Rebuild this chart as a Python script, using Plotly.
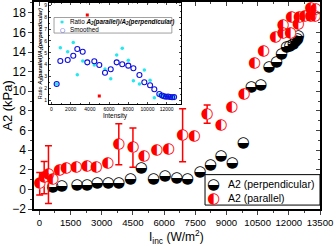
import plotly.graph_objects as go

# ---------------- main data ----------------
perp_x = [650, 1080, 1810, 2290, 2780, 3310, 3820, 4390, 4900, 5490, 6050, 6610, 7130, 7730,
          8230, 8740, 9280, 9810, 10200, 10650, 11050, 11410, 11650, 11890, 12050, 12210,
          12330, 12420, 12450]
perp_y = [0.23, 0.31, 0.38, 0.38, 0.64, 0.64, 0.64, 1.0, 2.2, 1.02, 1.36, 1.15, 0.99, 1.77,
          2.45, 3.37, 2.69, 4.67, 10.39, 10.62, 12.49, 13.0, 13.79, 14.47, 14.6, 14.8,
          15.05, 15.3, 15.56]

par_x = [15, 230, 435, 650, 970, 1290, 1775, 2290, 2740, 3290, 3820, 4500, 5030, 5650, 6210,
         6890, 7450, 8070, 8740, 9260, 9840, 10350, 10790, 11360, 11720, 11720, 12080, 12130,
         12450, 12500, 12770, 13060, 13060, 13260, 13300]
par_y = [0.58, 1.2, 1.5, 0.99, 1.94, 2.18, 2.28, 2.35, 2.28, 2.62, 4.6, 4.26, 3.37, 3.98, 4.05,
         5.52, 5.41, 7.66, 6.54, 8.41, 9.7, 12.84, 14.1, 15.5, 15.9, 16.75, 15.9, 17.5,
         16.85, 17.5, 17.6, 17.67, 18.46, 17.6, 18.35]
par_err = [1.15, 1.65, 2.95, 0, 0, 0, 0, 0, 0, 0, 2.1, 2.0, 0, 0, 0,
           2.7, 0, 0.93, 0, 0, 0, 0, 0, 0, 0, 0, 0, 0,
           0, 0, 0, 0, 0, 0, 0]

# ---------------- inset data ----------------
ratio_x = [540, 920, 1690, 2270, 2690, 3250, 4460, 5575, 6170, 6790, 7370, 8000, 8530, 9160,
           9670, 10270, 10710, 11230, 11510, 11720, 11930, 12140, 12350, 12560, 12770]
ratio_y = [2.36, 5.43, 5.09, 5.86, 3.14, 4.31, 3.97, 3.63, 2.80, 4.81, 5.38, 4.36, 2.64, 2.36,
           3.54, 2.67, 1.19, 1.45, 1.30, 1.35, 1.25, 1.30, 1.22, 1.28, 1.25]
smooth_x = [540, 920, 1690, 2270, 2690, 3250, 3730, 4460, 4980, 5575, 6170, 6790, 7370, 8000,
            8530, 9160, 9670, 10270, 10710, 11230, 11510, 11720, 11930, 12140, 12350, 12560, 12770]
smooth_y = [2.36, 4.30, 4.39, 4.75, 5.32, 5.09, 4.19, 4.28, 3.97, 3.31, 3.60, 4.19, 4.03, 3.91,
            3.69, 3.12, 2.50, 2.25, 1.91, 1.51, 1.38, 1.32, 1.28, 1.30, 1.26, 1.24, 1.25]
masked_x = [3730, 4980]
masked_y = [8.2, 1.34]

FONT = "Arial, Liberation Sans, sans-serif"
GLYPH = "DejaVu Sans"

fig = go.Figure()

# perpendicular: white backing + glyph
fig.add_trace(go.Scatter(x=perp_x, y=perp_y, mode="markers",
                         marker=dict(size=11, color="white"), showlegend=False, hoverinfo="skip"))
fig.add_trace(go.Scatter(x=perp_x, y=perp_y, mode="text", text=["\u25D2"] * len(perp_x),
                         textfont=dict(family=GLYPH, size=15, color="black"),
                         showlegend=False))
# parallel: error bars + white backing + glyph
fig.add_trace(go.Scatter(x=par_x, y=par_y, mode="markers",
                         marker=dict(size=11, color="white"),
                         error_y=dict(type="data", array=par_err, color="#ff0000",
                                      thickness=1.5, width=3.5, visible=True),
                         showlegend=False, hoverinfo="skip"))
fig.add_trace(go.Scatter(x=par_x, y=par_y, mode="text", text=["\u25D0"] * len(par_x),
                         textfont=dict(family=GLYPH, size=15, color="#ff0000"),
                         showlegend=False))

# dummy trace for mirrored inward ticks
fig.add_trace(go.Scatter(x=[0], y=[0], xaxis="x3", yaxis="y3", mode="markers",
                         marker=dict(size=1, color="rgba(0,0,0,0)"), showlegend=False,
                         hoverinfo="skip"))

# inset traces
fig.add_trace(go.Scatter(x=ratio_x, y=ratio_y, xaxis="x2", yaxis="y2", mode="markers",
                         marker=dict(size=3.5, color="#22e8f0"), showlegend=False))
fig.add_trace(go.Scatter(x=smooth_x, y=smooth_y, xaxis="x2", yaxis="y2", mode="markers",
                         marker=dict(size=5, color="#1010e0", symbol="circle-open",
                                     line=dict(width=1.1)),
                         showlegend=False))
fig.add_trace(go.Scatter(x=masked_x, y=masked_y, xaxis="x2", yaxis="y2", mode="markers",
                         marker=dict(size=3, color="#ff0000", symbol="square"), showlegend=False))

main_x = dict(range=[-260, 13500], tickmode="linear", tick0=0, dtick=1500, tickformat="d",
              ticks="outside", ticklen=4, tickwidth=1, showgrid=False, zeroline=False,
              showline=True, linecolor="black", linewidth=1.5,
              tickfont=dict(family=FONT, size=9.6, color="black"),
              minor=dict(ticks="outside", ticklen=2, dtick=750, tick0=0),
              domain=[0, 1])
main_y = dict(range=[-2.0, 19.1], tickmode="linear", tick0=0, dtick=2,
              ticks="outside", ticklen=4, tickwidth=1, showgrid=False, zeroline=False,
              showline=True, linecolor="black", linewidth=1.5,
              tickfont=dict(family=FONT, size=12, color="black"),
              minor=dict(ticks="outside", ticklen=2, dtick=1, tick0=0),
              title=dict(text="A2 (kPa)", font=dict(family=FONT, size=13, color="black"),
                         standoff=2),
              domain=[0, 1])

fig.update_layout(
    width=336, height=246,
    margin=dict(l=34, r=16, t=2, b=37),
    paper_bgcolor="white", plot_bgcolor="white",
    showlegend=False,
    xaxis=main_x, yaxis=main_y,
    xaxis3=dict(overlaying="x", side="top", range=[-260, 13500], anchor="y3",
                tickmode="linear", tick0=0, dtick=1500, ticks="inside", ticklen=4,
                showticklabels=False, showgrid=False, zeroline=False, showline=True,
                linecolor="black", linewidth=1.5,
                minor=dict(ticks="inside", ticklen=2, dtick=750, tick0=0)),
    yaxis3=dict(overlaying="y", side="right", range=[-2.0, 19.1],
                tickmode="linear", tick0=0, dtick=2, ticks="inside", ticklen=4,
                showticklabels=False, showgrid=False, zeroline=False, showline=True,
                linecolor="black", linewidth=1.5, anchor="x3",
                minor=dict(ticks="inside", ticklen=2, dtick=1, tick0=0)),
    xaxis2=dict(domain=[0.0524, 0.514], anchor="y2", range=[-260, 13490],
                tickmode="linear", tick0=0, dtick=2000, tickformat="d", ticks="inside", ticklen=2,
                mirror="allticks", showline=True, linecolor="black", linewidth=0.8,
                showgrid=False, zeroline=False,
                tickfont=dict(family=FONT, size=5, color="black"),
                minor=dict(ticks="inside", ticklen=1, dtick=1000, tick0=0),
                title=dict(text="Intensity", font=dict(family=FONT, size=6.5, color="black"),
                           standoff=1)),
    yaxis2=dict(domain=[0.507, 0.994], anchor="x2", range=[0.66, 9.19],
                tickmode="linear", tick0=1, dtick=1, ticks="inside", ticklen=2,
                mirror="allticks", showline=True, linecolor="black", linewidth=0.8,
                showgrid=False, zeroline=False,
                tickfont=dict(family=FONT, size=5, color="black"),
                minor=dict(ticks="inside", ticklen=1, dtick=0.5, tick0=1),
                title=dict(text="Ratio <b><i>A<sub>2</sub>(parallel)/A<sub>2</sub>(perpendicular)</i></b>",
                           font=dict(family=FONT, size=5.5, color="black"), standoff=1)),
)

shapes = [
    dict(type="rect", xref="paper", yref="paper", x0=0.070, x1=0.482, y0=0.850, y1=0.925,
         line=dict(color="#888888", width=0.8), fillcolor="white", layer="above"),
    dict(type="rect", xref="paper", yref="paper", x0=0.598, x1=1.0, y0=0.019, y1=0.166,
         line=dict(color="black", width=1), fillcolor="white", layer="above"),
]
ann = [
    dict(x=0.098, y=0.905, text="\u25CF", font=dict(family=GLYPH, size=4, color="#22e8f0")),
    dict(x=0.098, y=0.868, text="\u25CB", font=dict(family=GLYPH, size=6, color="#1010e0")),
    dict(x=0.120, y=0.905, text="Ratio <b><i>A<sub>2</sub>(parallel)/A<sub>2</sub>(perpendicular)</i></b>",
         xanchor="left", font=dict(family=FONT, size=6.3, color="black")),
    dict(x=0.120, y=0.868, text="Smoothed", xanchor="left",
         font=dict(family=FONT, size=6.3, color="black")),
    dict(x=0.626, y=0.121, text="\u25D2", font=dict(family=GLYPH, size=15, color="black")),
    dict(x=0.626, y=0.053, text="\u25D0", font=dict(family=GLYPH, size=15, color="#ff0000")),
    dict(x=0.672, y=0.121, text="A2 (perpendicular)", xanchor="left",
         font=dict(family=FONT, size=10.5, color="black")),
    dict(x=0.672, y=0.053, text="A2 (parallel)", xanchor="left",
         font=dict(family=FONT, size=10.5, color="black")),
    dict(x=0.497, y=-0.135, text="I<sub>inc</sub> (W/m<sup>2</sup>)", xanchor="center",
         font=dict(family=FONT, size=12, color="black")),
]
for a in ann:
    a.update(xref="paper", yref="paper", showarrow=False, yanchor="middle")
    a.setdefault("xanchor", "center")
fig.update_layout(shapes=shapes, annotations=ann)

fig.write_html("out.html", config={"displayModeBar": False},
               post_script="document.body.style.margin='0';document.body.style.padding='0';")
